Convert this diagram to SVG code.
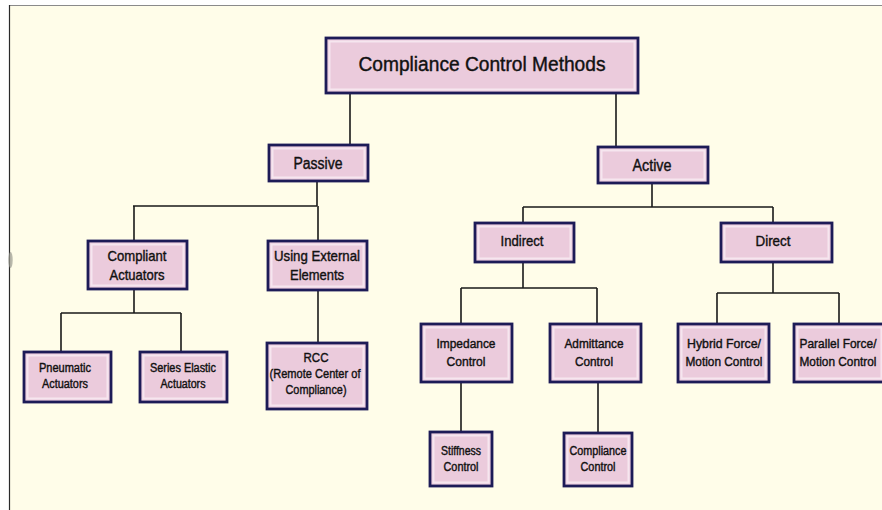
<svg xmlns="http://www.w3.org/2000/svg" width="882" height="510" viewBox="0 0 882 510">
<style>
.b{fill:#EBCBDC;stroke:#1D1B57;stroke-width:2.8}
.i{fill:none;stroke:#F6E6EF;stroke-width:2}
.c{fill:none;stroke:#1a1a1a;stroke-width:1.6}
text{font-family:"Liberation Sans",Arial,sans-serif;fill:#111111;text-anchor:middle;stroke:#111111;stroke-width:0.4}
.f20{font-size:20px}.f16{font-size:16px}.f14{font-size:14.5px}.f12{font-size:12.5px}.f11{font-size:12px}
</style>
<rect x="0" y="0" width="882" height="510" fill="#FFFFFF"/>
<rect x="9" y="5" width="873" height="505" fill="#FFFDE9"/>
<line x1="9" y1="5.5" x2="882" y2="5.5" stroke="#8a8a8a" stroke-width="1.2"/>
<line x1="9.5" y1="5" x2="9.5" y2="510" stroke="#2a2a2a" stroke-width="1.2"/>
<ellipse cx="10.5" cy="260" rx="2.2" ry="8" fill="#9a9a90" opacity="0.7"/>
<g id="connectors">
<path class="c" d="M350 93V145M616 93V147"/>
<path class="c" d="M317 181V206M133 206H317M134 206V241M318 206V241"/>
<path class="c" d="M134 289V313M61 313H181M61 313V352M181 313V352"/>
<path class="c" d="M318 290V343"/>
<path class="c" d="M652 183V207M523 207H773M523 207V223M773 207V223"/>
<path class="c" d="M523 262V288M461 288H597M461 288V324M597 288V324"/>
<path class="c" d="M773 262V293M717 293H839M717 293V324M839 293V324"/>
<path class="c" d="M461 382V432M598 382V433"/>
</g>
<g id="root"><rect class="b" x="326" y="38" width="312" height="55"/><rect class="i" x="329.5" y="41.5" width="305" height="48"/><text class="f20" x="482" y="71" textLength="247" lengthAdjust="spacingAndGlyphs">Compliance Control Methods</text></g>
<g id="passive"><rect class="b" x="269" y="145" width="99" height="36"/><rect class="i" x="272.5" y="148.5" width="92" height="29"/><text class="f16" x="318" y="169" textLength="49" lengthAdjust="spacingAndGlyphs">Passive</text></g>
<g id="active"><rect class="b" x="598" y="147" width="110" height="36"/><rect class="i" x="601.5" y="150.5" width="103" height="29"/><text class="f16" x="652" y="171" textLength="39" lengthAdjust="spacingAndGlyphs">Active</text></g>
<g id="compliant"><rect class="b" x="88" y="241" width="99" height="48"/><rect class="i" x="91.5" y="244.5" width="92" height="41"/><text class="f14" x="137" y="261" textLength="59" lengthAdjust="spacingAndGlyphs">Compliant</text><text class="f14" x="137" y="280" textLength="55" lengthAdjust="spacingAndGlyphs">Actuators</text></g>
<g id="external"><rect class="b" x="268" y="241" width="99" height="49"/><rect class="i" x="271.5" y="244.5" width="92" height="42"/><text class="f14" x="317" y="261" textLength="86" lengthAdjust="spacingAndGlyphs">Using External</text><text class="f14" x="317" y="280" textLength="54" lengthAdjust="spacingAndGlyphs">Elements</text></g>
<g id="indirect"><rect class="b" x="475" y="223" width="99" height="39"/><rect class="i" x="478.5" y="226.5" width="92" height="32"/><text class="f14" x="522" y="246" textLength="43" lengthAdjust="spacingAndGlyphs">Indirect</text></g>
<g id="direct"><rect class="b" x="721" y="223" width="111" height="39"/><rect class="i" x="724.5" y="226.5" width="104" height="32"/><text class="f14" x="773" y="246" textLength="35" lengthAdjust="spacingAndGlyphs">Direct</text></g>
<g id="pneumatic"><rect class="b" x="24" y="352" width="87" height="50"/><rect class="i" x="27.5" y="355.5" width="80" height="43"/><text class="f11" x="65" y="372" textLength="52" lengthAdjust="spacingAndGlyphs">Pneumatic</text><text class="f11" x="65" y="388" textLength="46" lengthAdjust="spacingAndGlyphs">Actuators</text></g>
<g id="series"><rect class="b" x="140" y="352" width="87" height="50"/><rect class="i" x="143.5" y="355.5" width="80" height="43"/><text class="f11" x="183" y="372" textLength="66" lengthAdjust="spacingAndGlyphs">Series Elastic</text><text class="f11" x="183" y="388" textLength="45" lengthAdjust="spacingAndGlyphs">Actuators</text></g>
<g id="rcc"><rect class="b" x="267" y="343" width="100" height="66"/><rect class="i" x="270.5" y="346.5" width="93" height="59"/><text class="f12" x="316" y="362" textLength="25" lengthAdjust="spacingAndGlyphs">RCC</text><text class="f12" x="315" y="378" textLength="91" lengthAdjust="spacingAndGlyphs">(Remote Center of</text><text class="f12" x="316" y="394" textLength="61" lengthAdjust="spacingAndGlyphs">Compliance)</text></g>
<g id="impedance"><rect class="b" x="421" y="324" width="91" height="58"/><rect class="i" x="424.5" y="327.5" width="84" height="51"/><text class="f12" x="466" y="348" textLength="59" lengthAdjust="spacingAndGlyphs">Impedance</text><text class="f12" x="466" y="366" textLength="39" lengthAdjust="spacingAndGlyphs">Control</text></g>
<g id="admittance"><rect class="b" x="550" y="324" width="91" height="58"/><rect class="i" x="553.5" y="327.5" width="84" height="51"/><text class="f12" x="594" y="348" textLength="59" lengthAdjust="spacingAndGlyphs">Admittance</text><text class="f12" x="594" y="366" textLength="38" lengthAdjust="spacingAndGlyphs">Control</text></g>
<g id="hybrid"><rect class="b" x="678" y="324" width="91" height="58"/><rect class="i" x="681.5" y="327.5" width="84" height="51"/><text class="f12" x="724" y="348" textLength="74" lengthAdjust="spacingAndGlyphs">Hybrid Force/</text><text class="f12" x="724" y="366" textLength="77" lengthAdjust="spacingAndGlyphs">Motion Control</text></g>
<g id="parallel"><rect class="b" x="794" y="324" width="91" height="58"/><rect class="i" x="797.5" y="327.5" width="84" height="51"/><text class="f12" x="838" y="348" textLength="77" lengthAdjust="spacingAndGlyphs">Parallel Force/</text><text class="f12" x="838" y="366" textLength="77" lengthAdjust="spacingAndGlyphs">Motion Control</text></g>
<g id="stiffness"><rect class="b" x="430" y="432" width="62" height="54"/><rect class="i" x="433.5" y="435.5" width="55" height="47"/><text class="f11" x="461" y="455" textLength="40" lengthAdjust="spacingAndGlyphs">Stiffness</text><text class="f11" x="461" y="471" textLength="35" lengthAdjust="spacingAndGlyphs">Control</text></g>
<g id="compliance"><rect class="b" x="564" y="433" width="68" height="53"/><rect class="i" x="567.5" y="436.5" width="61" height="46"/><text class="f11" x="598" y="455" textLength="57" lengthAdjust="spacingAndGlyphs">Compliance</text><text class="f11" x="598" y="471" textLength="35" lengthAdjust="spacingAndGlyphs">Control</text></g>
</svg>
